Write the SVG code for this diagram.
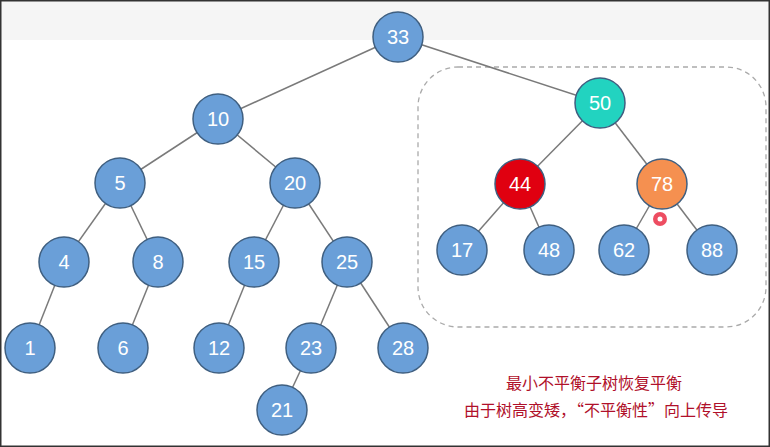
<svg xmlns="http://www.w3.org/2000/svg" width="770" height="447" viewBox="0 0 770 447">
<style>
.n circle{stroke:#3f5f80;stroke-width:1.5}
.n text{font-family:"Liberation Sans",Arial,sans-serif;font-size:20px;fill:#fff;text-anchor:middle;dominant-baseline:central}
.b{fill:#6a9fd8}
#edges line{stroke:#7a7a7a;stroke-width:1.5}
.t{font-family:"Noto Sans CJK SC",sans-serif;font-size:16px;fill:#b0102a;text-anchor:middle}
</style>
<rect width="770" height="447" fill="#fff"/>
<rect x="0" y="0" width="770" height="40" fill="#f5f5f5"/>
<rect x="0" y="40" width="770" height="407" fill="#fff"/>
<rect x="0" y="0" width="770" height="447" fill="none" stroke="#333" stroke-width="3"/>
<rect x="418" y="67" width="348" height="260" rx="40" fill="none" stroke="#aaa" stroke-width="1.3" stroke-dasharray="5,4"/>
<g id="edges">
<line x1="398" y1="37" x2="218" y2="119"/><line x1="398" y1="37" x2="600" y2="103"/>
<line x1="218" y1="119" x2="120" y2="183"/><line x1="218" y1="119" x2="295" y2="183"/>
<line x1="600" y1="103" x2="520" y2="184"/><line x1="600" y1="103" x2="662" y2="184"/>
<line x1="120" y1="183" x2="64" y2="262"/><line x1="120" y1="183" x2="158" y2="262"/>
<line x1="295" y1="183" x2="254" y2="262"/><line x1="295" y1="183" x2="347" y2="262"/>
<line x1="520" y1="184" x2="462" y2="250"/><line x1="520" y1="184" x2="549" y2="250"/>
<line x1="662" y1="184" x2="624" y2="250"/><line x1="662" y1="184" x2="712" y2="250"/>
<line x1="64" y1="262" x2="30" y2="348"/><line x1="158" y1="262" x2="123" y2="348"/>
<line x1="254" y1="262" x2="219" y2="348"/><line x1="347" y1="262" x2="311" y2="348"/>
<line x1="347" y1="262" x2="403" y2="348"/><line x1="311" y1="348" x2="282" y2="410"/>
</g>
<g id="n33" class="n"><circle class="b" cx="398" cy="37" r="25"/><text x="398" y="37">33</text></g>
<g id="n10" class="n"><circle class="b" cx="218" cy="119" r="25"/><text x="218" y="119">10</text></g>
<g id="n50" class="n"><circle fill="#22d3c0" cx="600" cy="103" r="25"/><text x="600" y="103">50</text></g>
<g id="n5" class="n"><circle class="b" cx="120" cy="183" r="25"/><text x="120" y="183">5</text></g>
<g id="n20" class="n"><circle class="b" cx="295" cy="183" r="25"/><text x="295" y="183">20</text></g>
<g id="n44" class="n"><circle fill="#e00010" stroke="#800" cx="520" cy="184" r="25"/><text x="520" y="184">44</text></g>
<g id="n78" class="n"><circle fill="#f59050" stroke="#955" cx="662" cy="184" r="25"/><text x="662" y="184">78</text></g>
<g id="n4" class="n"><circle class="b" cx="64" cy="262" r="25"/><text x="64" y="262">4</text></g>
<g id="n8" class="n"><circle class="b" cx="158" cy="262" r="25"/><text x="158" y="262">8</text></g>
<g id="n15" class="n"><circle class="b" cx="254" cy="262" r="25"/><text x="254" y="262">15</text></g>
<g id="n25" class="n"><circle class="b" cx="347" cy="262" r="25"/><text x="347" y="262">25</text></g>
<g id="n17" class="n"><circle class="b" cx="462" cy="250" r="25"/><text x="462" y="250">17</text></g>
<g id="n48" class="n"><circle class="b" cx="549" cy="250" r="25"/><text x="549" y="250">48</text></g>
<g id="n62" class="n"><circle class="b" cx="624" cy="250" r="25"/><text x="624" y="250">62</text></g>
<g id="n88" class="n"><circle class="b" cx="712" cy="250" r="25"/><text x="712" y="250">88</text></g>
<g id="n1" class="n"><circle class="b" cx="30" cy="348" r="25"/><text x="30" y="348">1</text></g>
<g id="n6" class="n"><circle class="b" cx="123" cy="348" r="25"/><text x="123" y="348">6</text></g>
<g id="n12" class="n"><circle class="b" cx="219" cy="348" r="25"/><text x="219" y="348">12</text></g>
<g id="n23" class="n"><circle class="b" cx="311" cy="348" r="25"/><text x="311" y="348">23</text></g>
<g id="n28" class="n"><circle class="b" cx="403" cy="348" r="25"/><text x="403" y="348">28</text></g>
<g id="n21" class="n"><circle class="b" cx="282" cy="410" r="25"/><text x="282" y="410">21</text></g>
<circle cx="660" cy="219" r="7" fill="#e8203a" opacity="0.8"/><circle cx="660" cy="219" r="2.5" fill="#fff"/>
<text class="t" x="594" y="389">最小不平衡子树恢复平衡</text>
<text class="t" x="596" y="416">由于树高变矮，“不平衡性”向上传导</text>
</svg>
